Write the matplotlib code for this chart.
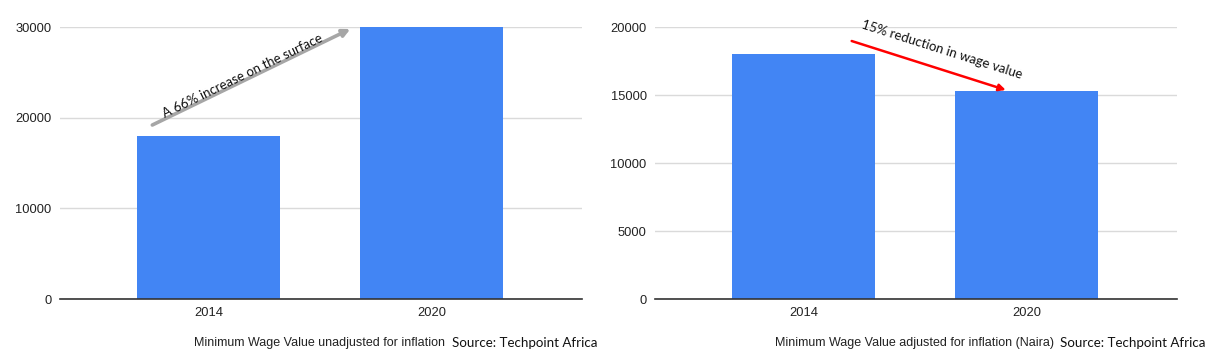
import matplotlib.pyplot as plt

years = ["2014", "2020"]
unadjusted = [18000, 30000]
adjusted = [18000, 15300]

caption_left = "Minimum Wage Value unadjusted for inflation"
caption_right = "Minimum Wage Value adjusted for inflation (Naira)"
source = "Source: Techpoint Africa"

bar_color = "#4285F4"

fig = plt.figure(figsize=(12.11, 3.62), dpi=100)
ax1 = fig.add_axes([60/1211, 63/362, 522/1211, 272/362])
ax2 = fig.add_axes([655/1211, 63/362, 522/1211, 272/362])


def style(ax, ymax, step):
    x = range(len(years))
    ax.set_xlim(-0.667, 1.674)
    ax.set_ylim(0, ymax)
    ax.set_yticks(range(0, ymax + 1, step))
    ax.set_xticks(list(x))
    ax.set_xticklabels(years)
    ax.grid(axis="y", color="#dadada", lw=1)
    ax.set_axisbelow(True)
    for s in ["top", "right", "left"]:
        ax.spines[s].set_visible(False)
    ax.spines["bottom"].set_color("#333333")
    ax.spines["bottom"].set_linewidth(1.2)
    ax.tick_params(length=0, labelsize=9.3, labelcolor="#222222", pad=6)
    for lab in ax.get_xticklabels() + ax.get_yticklabels():
        lab.set_family("Liberation Sans")


ax1.bar(range(len(years)), unadjusted, width=0.64, color=bar_color)
style(ax1, 30000, 10000)
ax1.annotate("", xy=(0.635, 29780), xytext=(-0.253, 19190),
             arrowprops=dict(arrowstyle="-|>", color="#a6a6a6", lw=2.6,
                             mutation_scale=11, shrinkA=0, shrinkB=0))
ax1.text(0.15, 24600, "A 66% increase on the surface", rotation=25.9,
         rotation_mode="anchor", ha="center", va="center", fontsize=9.5,
         family="Lato", color="#111111")

ax2.bar(range(len(years)), adjusted, width=0.64, color=bar_color)
style(ax2, 20000, 5000)
ax2.annotate("", xy=(0.906, 15370), xytext=(0.215, 18970),
             arrowprops=dict(arrowstyle="-|>", color="#ff0000", lw=1.8,
                             mutation_scale=10, shrinkA=0, shrinkB=0))
ax2.text(0.62, 18300, "15% reduction in wage value", rotation=-17.6,
         rotation_mode="anchor", ha="center", va="center", fontsize=9.5,
         family="Lato", color="#111111")

fig.text(445/1211, 1 - 343/362, caption_left, ha="right", va="center",
         fontsize=9, family="Liberation Sans", color="#222222")
fig.text(452/1211, 1 - 343/362, source, ha="left", va="center",
         fontsize=9.6, family="Lato", color="#111111")
fig.text(1054/1211, 1 - 343/362, caption_right, ha="right", va="center",
         fontsize=9, family="Liberation Sans", color="#222222")
fig.text(1060/1211, 1 - 343/362, source, ha="left", va="center",
         fontsize=9.6, family="Lato", color="#111111")

fig.savefig("out.png", dpi=100)
